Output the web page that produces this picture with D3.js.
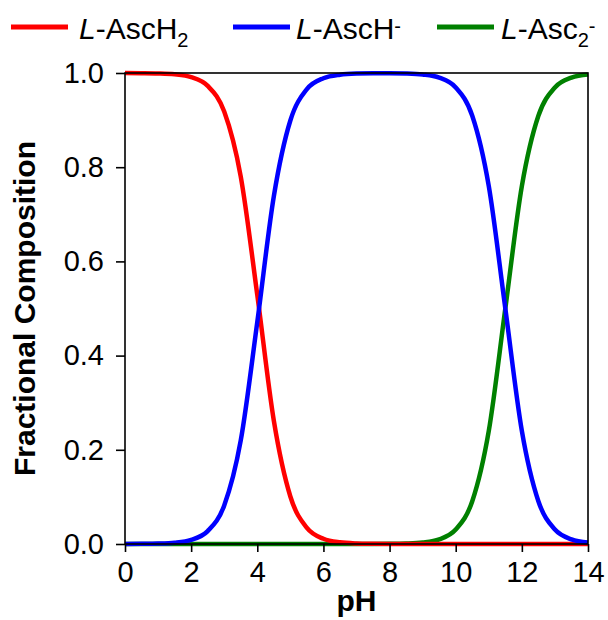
<!DOCTYPE html>
<html>
<head>
<meta charset="utf-8">
<script src="https://cdn.jsdelivr.net/npm/d3@7"></script>
<style>
  body { margin: 0; background: #fff; }
  svg text { font-family: "Liberation Sans", Arial, sans-serif; fill: #000; }
</style>
</head>
<body>
<svg id="chart" width="608" height="620"></svg>
<script>
// pH grid and fractions
var pH = [0, 0.5, 1, 1.5, 2, 2.5, 3, 3.5, 4, 4.5, 5, 5.5, 6, 6.5, 7,
          7.5, 8, 8.5, 9, 9.5, 10, 10.5, 11, 11.5, 12, 12.5, 13, 13.5, 14];

var ascH2 = [0.9999, 0.9997, 0.9991, 0.9972, 0.9912, 0.9726, 0.9182, 0.7802, 0.5287, 0.2619,
             0.1009, 0.0343, 0.0111, 0.0035, 0.0011, 0.0004, 0.0001, 0, 0, 0,
             0, 0, 0, 0, 0, 0, 0, 0, 0];

var ascH = [0.0001, 0.0003, 0.0009, 0.0028, 0.0088, 0.0274, 0.0818, 0.2198, 0.4713, 0.7381,
            0.8991, 0.9657, 0.9889, 0.9965, 0.9989, 0.9995, 0.9996, 0.9990, 0.9968, 0.9901,
            0.9693, 0.9091, 0.7597, 0.5000, 0.2403, 0.0909, 0.0307, 0.0099, 0.0032];

var asc2 = [0, 0, 0, 0, 0, 0, 0, 0, 0, 0,
            0, 0, 0, 0, 0, 0.0001, 0.0003, 0.0010, 0.0032, 0.0099,
            0.0307, 0.0909, 0.2403, 0.5000, 0.7597, 0.9091, 0.9693, 0.9901, 0.9968];

var xTicks = [0, 2, 4, 6, 8, 10, 12, 14];
var yTicks = [0, 0.2, 0.4, 0.6, 0.8, 1.0];

var series = [
  { name: "AscH2", values: ascH2, color: "#ff0000" },
  { name: "AscH-", values: ascH, color: "#0000ff" },
  { name: "Asc2-", values: asc2, color: "#008000" }
];

var svg = d3.select("#chart");
var margin = { top: 73, right: 20, bottom: 76, left: 125 },
    width = 608 - margin.left - margin.right,
    height = 620 - margin.top - margin.bottom;

var x = d3.scaleLinear().domain([0, 14]).range([0, width]);
var y = d3.scaleLinear().domain([0, 1]).range([height, 0]);

var g = svg.append("g").attr("transform", "translate(" + margin.left + "," + margin.top + ")");

// curves
var line = d3.line()
  .x(function(d) { return x(d[0]); })
  .y(function(d) { return y(d[1]); })
  .curve(d3.curveMonotoneX);

// green drawn first so red/blue sit on top like the figure
[series[2], series[0], series[1]].forEach(function(s) {
  g.append("path")
    .datum(pH.map(function(p, i) { return [p, s.values[i]]; }))
    .attr("fill", "none")
    .attr("stroke", s.color)
    .attr("stroke-width", 4.5)
    .attr("d", line);
});

// frame
g.append("rect")
  .attr("width", width).attr("height", height)
  .attr("fill", "none").attr("stroke", "#000").attr("stroke-width", 1.6);

// axes
var xAxis = g.append("g")
  .attr("transform", "translate(0," + height + ")")
  .call(d3.axisBottom(x).tickValues(xTicks).tickSize(8).tickPadding(9).tickFormat(d3.format("d")));
var yAxis = g.append("g")
  .call(d3.axisLeft(y).tickValues(yTicks).tickSize(9).tickPadding(12).tickFormat(d3.format(".1f")));

[xAxis, yAxis].forEach(function(a) {
  a.select(".domain").remove();
  a.selectAll(".tick line").attr("stroke", "#000").attr("stroke-width", 1.6);
  a.selectAll(".tick text").style("font-size", "29px").attr("fill", "#000");
});

// axis titles
svg.append("text")
  .attr("x", margin.left + width / 2).attr("y", 611)
  .attr("text-anchor", "middle")
  .style("font-size", "30px").style("font-weight", "bold")
  .text("pH");

svg.append("text")
  .attr("transform", "translate(35," + (margin.top + height / 2) + ") rotate(-90)")
  .attr("text-anchor", "middle")
  .style("font-size", "30px").style("font-weight", "bold")
  .text("Fractional Composition");

// legend
var legendItems = [
  { x: 11, tx: 79, color: "#ff0000", parts: [["L", "italic"], ["-AscH", ""], ["2", "sub"]] },
  { x: 233, tx: 296, color: "#0000ff", parts: [["L", "italic"], ["-AscH", ""], ["-", "sup"]] },
  { x: 437, tx: 501, color: "#008000", parts: [["L", "italic"], ["-Asc", ""], ["2", "sub"], ["-", "supafter"]] }
];

legendItems.forEach(function(item) {
  var lg = svg.append("g");
  lg.append("line")
    .attr("x1", item.x).attr("x2", item.x + 57)
    .attr("y1", 27).attr("y2", 27)
    .attr("stroke", item.color).attr("stroke-width", 5);
  var t = lg.append("text")
    .attr("x", item.tx).attr("y", 39)
    .style("font-size", "30px");
  item.parts.forEach(function(p) {
    var ts = t.append("tspan").text(p[0]);
    if (p[1] === "italic") ts.style("font-style", "italic");
    if (p[1] === "sub") ts.style("font-size", "20px").attr("dy", 8);
    if (p[1] === "sup") ts.style("font-size", "20px").attr("dy", -6);
    if (p[1] === "supafter") ts.style("font-size", "20px").attr("dy", -14);
  });
});
</script>
</body>
</html>
